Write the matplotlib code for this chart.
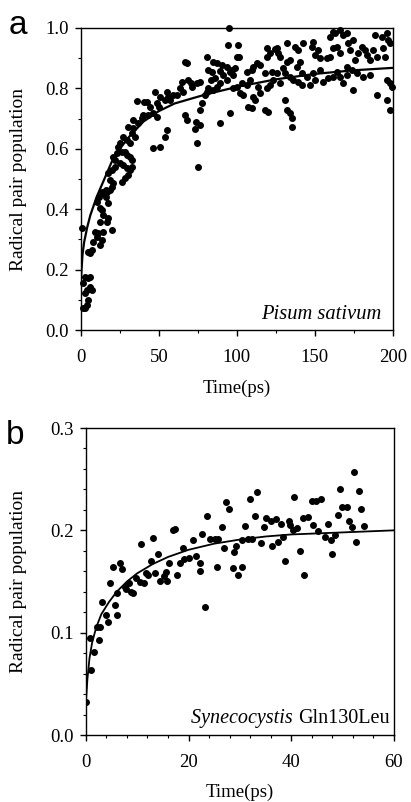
import numpy as np
import matplotlib
matplotlib.use("Agg")
import matplotlib.pyplot as plt
from matplotlib.ticker import MultipleLocator

plt.rcParams['font.family'] = ['Liberation Serif', 'DejaVu Serif']
plt.rcParams['mathtext.fontset'] = 'stix'

# ---- panel a: Pisum sativum (time in ps, radical pair population)
a_t = [94.7, 94.4, 100.9, 99.8, 101.5, 80.6, 66.7, 67.7, 84.8, 87.0, 90.2, 93.4, 81.6, 83.8, 89.1, 96.6, 98.7,
       83.1, 85.9, 76.3, 74.1, 70.5, 68.8, 70.9, 64.5, 63.5, 65.6, 61.3, 54.9, 56.0, 57.1, 59.2, 53.8, 50.6,
       48.5, 50.2, 47.4, 42.1, 44.2, 46.4, 48.5, 43.2, 40.0, 38.9, 36.8, 35.7, 40.4, 33.5, 30.3, 33.5, 34.6,
       32.5, 29.3, 27.1, 25.0, 31.4, 23.9, 26.1, 22.9, 20.7, 21.8, 17.5, 19.7, 21.8, 18.6, 16.0, 13.2, 11.8,
       50.6, 46.4, 54.9, 53.8, 67.7, 66.7, 73.7, 76.3, 77.4, 73.1, 76.3, 74.6, 75.2, 89.1, 95.5, 101.9, 104.1,
       103.0, 106.2, 108.3, 99.8, 97.6, 106.2, 110.5, 109.4, 112.6, 114.7, 117.9, 119.0, 119.0, 121.2, 124.4,
       125.4, 126.5, 127.6, 131.8, 134.0, 131.8, 137.2, 139.3, 140.4, 138.2, 141.5, 142.5, 147.9, 150.0, 152.1,
       153.2, 148.9, 157.5, 159.6, 161.8, 163.9, 166.0, 159.6, 161.8, 162.8, 166.0, 168.2, 170.3, 171.4, 172.4,
       174.6, 175.6, 177.8, 179.9, 182.1, 183.1, 185.3, 187.4, 189.5, 188.5, 192.7, 195.9, 197.0, 198.1, 193.8,
       194.9, 195.9, 198.1, 199.1, 195.9, 198.1, 189.5, 185.3, 181.0, 176.7, 174.6, 168.2, 166.0, 170.3, 153.2,
       148.9, 144.7, 141.5, 139.3, 134.0, 136.1, 129.7, 130.8, 130.8, 134.0, 135.0, 135.0, 131.8, 119.0, 121.2,
       117.9, 120.1, 110.5, 111.5, 107.3, 109.4, 114.7, 113.7, 123.3, 125.4, 127.6, 122.2, 95.5, 97.6, 91.2,
       93.4, 87.0, 89.1, 84.8, 79.5, 80.6, 81.6, 146.8, 150.0, 155.3, 158.5, 161.8, 163.9, 170.3, 173.5,
       28.2, 29.3, 31.4, 32.5, 25.0, 27.1, 29.3, 31.4, 30.3, 28.2, 32.5, 26.1, 20.7, 19.7, 18.6, 16.5, 14.3,
       16.0, 17.5, 13.2, 14.3, 12.2, 10.0, 12.2, 16.5, 17.5, 19.7, 14.3, 13.2, 9.0, 11.1, 10.0, 7.9, 6.8, 5.8,
       4.7, 2.6, 4.7, 5.8, 3.6, 1.5, 2.6, 4.7, 3.6, 2.6, 0.4, 6.8, 5.8, 12.2, 1.3]
a_y = [0.999, 0.944, 0.944, 0.905, 0.905, 0.903, 0.889, 0.883, 0.889, 0.883, 0.877, 0.872, 0.861, 0.855, 0.859,
       0.861, 0.866, 0.828, 0.833, 0.822, 0.817, 0.819, 0.828, 0.804, 0.822, 0.800, 0.789, 0.778, 0.789, 0.773,
       0.762, 0.778, 0.762, 0.773, 0.751, 0.740, 0.789, 0.756, 0.740, 0.717, 0.706, 0.712, 0.712, 0.701, 0.684,
       0.758, 0.756, 0.695, 0.673, 0.668, 0.640, 0.651, 0.629, 0.640, 0.618, 0.618, 0.607, 0.591, 0.585, 0.574,
       0.563, 0.519, 0.530, 0.541, 0.497, 0.464, 0.458, 0.442, 0.607, 0.602, 0.662, 0.640, 0.695, 0.712, 0.690,
       0.728, 0.751, 0.664, 0.679, 0.620, 0.541, 0.687, 0.717, 0.784, 0.778, 0.817, 0.811, 0.828, 0.806, 0.800,
       0.855, 0.872, 0.861, 0.883, 0.877, 0.850, 0.933, 0.905, 0.916, 0.929, 0.933, 0.916, 0.905, 0.949, 0.894,
       0.889, 0.938, 0.927, 0.889, 0.872, 0.850, 0.949, 0.938, 0.911, 0.927, 0.900, 0.955, 0.900, 0.905, 0.933,
       0.938, 0.916, 0.971, 0.988, 0.982, 0.993, 0.977, 0.982, 0.949, 0.927, 0.960, 0.894, 0.916, 0.938, 0.927,
       0.911, 0.894, 0.927, 0.905, 0.977, 0.971, 0.982, 0.960, 0.949, 0.933, 0.905, 0.828, 0.817, 0.806, 0.762,
       0.728, 0.778, 0.844, 0.839, 0.850, 0.795, 0.817, 0.839, 0.844, 0.861, 0.850, 0.839, 0.811, 0.822, 0.839,
       0.828, 0.866, 0.850, 0.762, 0.717, 0.701, 0.673, 0.728, 0.800, 0.811, 0.728, 0.723, 0.773, 0.762, 0.740,
       0.734, 0.784, 0.806, 0.828, 0.850, 0.817, 0.855, 0.855, 0.844, 0.844, 0.828, 0.806, 0.817, 0.795, 0.778,
       0.789, 0.800, 0.811, 0.828, 0.822, 0.833, 0.839, 0.855, 0.872, 0.861,
       0.591, 0.579, 0.574, 0.563, 0.552, 0.546, 0.535, 0.530, 0.513, 0.502, 0.541, 0.491, 0.486, 0.475, 0.464,
       0.458, 0.453, 0.442, 0.419, 0.397, 0.381, 0.403, 0.425, 0.359, 0.359, 0.370, 0.331, 0.326, 0.298, 0.326,
       0.320, 0.309, 0.292, 0.265, 0.254, 0.259, 0.177, 0.171, 0.143, 0.132, 0.155, 0.121, 0.099, 0.083, 0.072,
       0.337, 0.132, 0.177, 0.281, 0.073]
# fitted curve
a_fit_t = [0, 1, 2, 4, 6, 10, 15, 20, 25, 30, 40, 50, 60, 80, 100, 125, 150, 175, 200]
a_fit_y = [0.17, 0.25, 0.29, 0.34, 0.38, 0.44, 0.50, 0.56, 0.60, 0.635, 0.69, 0.725, 0.75, 0.78, 0.805, 0.83,
           0.848, 0.86, 0.868]

# ---- panel b: Synecocystis Gln130Leu
b_t = [52.3, 49.5, 53.2, 33.3, 32.0, 40.6, 44.0, 44.8, 45.9, 27.3, 27.9, 50.0, 50.8, 53.6, 23.6, 33.0, 35.2,
       36.0, 37.1, 39.5, 42.3, 43.3, 49.2, 51.3, 54.2, 51.8, 31.1, 34.7, 26.5, 38.0, 39.8, 40.4, 41.2, 44.3,
       47.2, 45.3, 46.6, 48.5, 47.7, 52.7, 48.0, 41.7, 42.5, 38.9, 38.4, 37.5, 36.2, 34.1, 32.4, 31.5, 30.5,
       29.2, 28.8, 29.7, 28.7, 30.5, 26.9, 25.5, 24.2, 25.1, 25.8, 22.7, 20.9, 21.4, 22.2, 22.3, 20.1, 19.2,
       18.3, 18.9, 17.7, 17.0, 17.3, 16.2, 15.7, 15.2, 15.8, 14.1, 14.4, 13.1, 13.4, 12.6, 11.8, 12.2, 10.7,
       10.5, 11.3, 9.7, 8.7, 9.2, 8.4, 7.6, 7.9, 7.0, 6.6, 5.3, 5.7, 4.7, 6.1, 3.9, 3.2, 4.4, 2.7, 2.2, 23.3,
       6.0, 2.5, 0.8, 1.6, 1.0, 0.1]
b_y = [0.257, 0.240, 0.238, 0.237, 0.231, 0.233, 0.229, 0.229, 0.231, 0.228, 0.221, 0.223, 0.223, 0.221, 0.214,
       0.214, 0.212, 0.209, 0.211, 0.209, 0.212, 0.213, 0.215, 0.209, 0.204, 0.203, 0.204, 0.203, 0.203, 0.206,
       0.205, 0.200, 0.202, 0.205, 0.206, 0.199, 0.194, 0.195, 0.191, 0.189, 0.177, 0.180, 0.156, 0.170, 0.194,
       0.189, 0.185, 0.188, 0.192, 0.192, 0.191, 0.185, 0.179, 0.156, 0.163, 0.164, 0.183, 0.164, 0.192, 0.192,
       0.192, 0.196, 0.191, 0.175, 0.168, 0.160, 0.173, 0.172, 0.168, 0.183, 0.156, 0.200, 0.201, 0.168, 0.159,
       0.155, 0.151, 0.177, 0.151, 0.193, 0.158, 0.170, 0.158, 0.156, 0.187, 0.150, 0.149, 0.153, 0.140, 0.139,
       0.149, 0.145, 0.143, 0.162, 0.168, 0.164, 0.127, 0.149, 0.139, 0.117, 0.130, 0.110, 0.106, 0.106, 0.125,
       0.117, 0.093, 0.095, 0.081, 0.064, 0.032]
b_fit_t = [0, 0.3, 0.7, 1.2, 2, 3, 4.5, 6, 8, 10, 13, 16, 20, 25, 30, 35, 40, 45, 50, 55, 60]
b_fit_y = [0.032, 0.055, 0.075, 0.09, 0.105, 0.118, 0.13, 0.14, 0.15, 0.158, 0.167, 0.174, 0.181, 0.187,
           0.191, 0.194, 0.196, 0.197, 0.198, 0.199, 0.2]

fig = plt.figure(figsize=(4.11, 8.02), dpi=100)
ax1 = fig.add_axes([0.197, 0.5885, 0.759, 0.3766])
ax2 = fig.add_axes([0.209, 0.0835, 0.749, 0.3828])

FS = 13.5

def style(ax):
    for s in ax.spines.values():
        s.set_linewidth(1.0)
    ax.tick_params(which='major', direction='out', length=4, width=1.0, labelsize=FS, pad=5)
    ax.tick_params(axis='x', which='major', pad=10)
    ax.tick_params(which='minor', direction='out', length=2.5, width=0.8)

# panel a
ax1.plot(a_t, a_y, 'o', color='black', markersize=4, clip_on=False)
ax1.plot(a_fit_t, a_fit_y, '-', color='black', linewidth=1.6)
ax1.set_xlim(0, 200)
ax1.set_ylim(0, 1.0)
ax1.xaxis.set_major_locator(MultipleLocator(50))
ax1.xaxis.set_minor_locator(MultipleLocator(25))
ax1.yaxis.set_major_locator(MultipleLocator(0.2))
ax1.yaxis.set_minor_locator(MultipleLocator(0.1))
ax1.yaxis.set_major_formatter(lambda v, p: f'{v:.1f}')
style(ax1)
ax1.set_xlabel('Time(ps)', fontsize=FS)
ax1.set_ylabel('Radical pair population', fontsize=14)
ax1.xaxis.set_label_coords(0.5, -0.192)
ax1.yaxis.set_label_coords(-0.199, 0.5)
ax1.xaxis.label.set_va('center')
ax1.yaxis.label.set_va('center')
ax1.text(0.962, 0.05, 'Pisum sativum', transform=ax1.transAxes, fontsize=14.8, style='italic',
         ha='right', va='center')

# panel b
ax2.plot(b_t, b_y, 'o', color='black', markersize=4)
ax2.plot(b_fit_t, b_fit_y, '-', color='black', linewidth=1.3)
ax2.set_xlim(0, 60)
ax2.set_ylim(0, 0.3)
ax2.xaxis.set_major_locator(MultipleLocator(20))
ax2.xaxis.set_minor_locator(MultipleLocator(4))
ax2.yaxis.set_major_locator(MultipleLocator(0.1))
ax2.yaxis.set_minor_locator(MultipleLocator(0.02))
ax2.yaxis.set_major_formatter(lambda v, p: f'{v:.1f}')
style(ax2)
ax2.set_xlabel('Time(ps)', fontsize=FS)
ax2.set_ylabel('Radical pair population', fontsize=14)
ax2.xaxis.set_label_coords(0.5, -0.186)
ax2.yaxis.set_label_coords(-0.2175, 0.5)
ax2.xaxis.label.set_va('center')
ax2.yaxis.label.set_va('center')
t_reg = ax2.text(0.987, 0.055, 'Gln130Leu', transform=ax2.transAxes, fontsize=14.5,
                 ha='right', va='center')
ax2.annotate('Synecocystis ', xy=(0, 0.5), xycoords=t_reg, fontsize=14.5, style='italic',
             ha='right', va='center')

# panel letters
fig.text(18 / 411, 1 - 26 / 802, 'a', fontsize=24, family=['Liberation Sans', 'DejaVu Sans'],
         ha='center', va='center')
fig.text(15 / 411, 1 - 436 / 802, 'b', fontsize=24, family=['Liberation Sans', 'DejaVu Sans'],
         ha='center', va='center')

fig.savefig('out.png', dpi=100)
